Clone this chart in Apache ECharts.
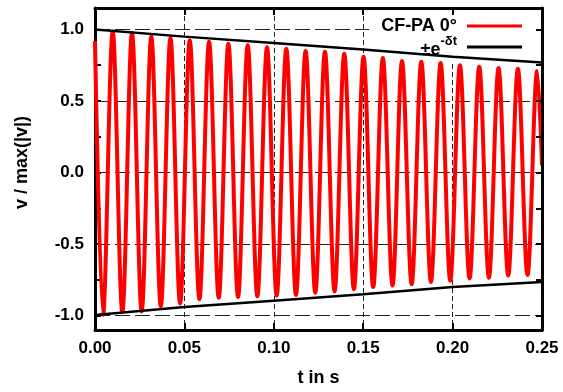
<!DOCTYPE html>
<html>
<head>
<meta charset="utf-8">
<script src="https://cdn.jsdelivr.net/npm/echarts@6/dist/echarts.min.js"></script>
<style>html,body{margin:0;padding:0;background:#fff}#c{width:563px;height:392px}</style>
</head>
<body>
<div id="c"></div>
<script>
// signal samples (time in s, normalized value): start, alternating extremes, end
var sigT = [0.0000, 0.0045, 0.0099, 0.0153, 0.0207, 0.0261, 0.0315, 0.0368, 0.0422, 0.0476, 0.0530,
            0.0584, 0.0638, 0.0692, 0.0746, 0.0800, 0.0854, 0.0908, 0.0962, 0.1016, 0.1070,
            0.1124, 0.1178, 0.1232, 0.1286, 0.1340, 0.1394, 0.1448, 0.1502, 0.1556, 0.1610,
            0.1664, 0.1717, 0.1771, 0.1825, 0.1879, 0.1933, 0.1987, 0.2041, 0.2095, 0.2149,
            0.2203, 0.2257, 0.2311, 0.2365, 0.2419, 0.2473, 0.2500];
var sigV = [0.92, -0.995, 0.985, -0.975, 0.975, -0.97, 0.95, -0.935, 0.94, -0.915, 0.925,
            -0.885, 0.915, -0.875, 0.90, -0.87, 0.89, -0.865, 0.875, -0.86, 0.865,
            -0.855, 0.85, -0.84, 0.845, -0.83, 0.83, -0.815, 0.81, -0.80, 0.80,
            -0.79, 0.78, -0.78, 0.775, -0.765, 0.765, -0.755, 0.75, -0.74, 0.74,
            -0.735, 0.73, -0.72, 0.725, -0.715, 0.71, 0.05];
// envelope ±e^(-δt)
var envT = [0, 0.05, 0.10, 0.15, 0.20, 0.25];
var envUpper = [1.0, 0.95, 0.905, 0.86, 0.81, 0.77];
var envLower = [-0.995, -0.94, -0.895, -0.85, -0.80, -0.765];
// axis ticks
var xTicks = [0, 0.05, 0.10, 0.15, 0.20, 0.25];
var yLabels = [-1.0, -0.5, 0.0, 0.5, 1.0];
var yTicks = [-1.0, -0.75, -0.5, -0.25, 0.0, 0.25, 0.5, 0.75, 1.0];
var seriesName = 'CF-PA 0°';
var envName = 'env';

var FONT = 'Liberation Sans';
function zip(a, b) { return a.map(function (v, i) { return [v, b[i]]; }); }

var chart = echarts.init(document.getElementById('c'), null, {renderer: 'canvas'});
var axisLineStyle = {color: '#000', width: 3};
chart.setOption({
  animation: false,
  backgroundColor: '#fff',
  grid: {left: 95, right: 21, top: 8, bottom: 60, containLabel: false},
  legend: {
    data: [{name: seriesName, icon: 'rect'}, {name: envName, icon: 'rect'}],
    orient: 'vertical',
    align: 'right',
    right: 22, top: 8,
    padding: [9, 19, 4, 12],
    backgroundColor: '#fff',
    z: 2,
    itemWidth: 55, itemHeight: 3, itemGap: 0,
    formatter: function (n) { return n === envName ? '{a|±e}{b|-δt}' : n; },
    textStyle: {
      fontFamily: FONT, fontWeight: 'bold', fontSize: 18, color: '#000', padding: [0, 5, 0, 0],
      rich: {
        a: {fontFamily: FONT, fontWeight: 'bold', fontSize: 18, color: '#000', padding: [6, 0, 0, 0]},
        b: {fontFamily: FONT, fontWeight: 'bold', fontSize: 13, color: '#000', verticalAlign: 'top', padding: [0, 0, 8, 0]}
      }
    }
  },
  xAxis: [{
    type: 'value', min: 0, max: 0.25, interval: 0.05, position: 'bottom',
    name: 't in s', nameLocation: 'middle', nameGap: 39,
    nameTextStyle: {fontFamily: FONT, fontWeight: 'bold', fontSize: 18, color: '#000'},
    axisLine: {show: true, onZero: false, lineStyle: axisLineStyle},
    axisTick: {show: true, inside: true, length: 7, lineStyle: {color: '#000', width: 2}},
    axisLabel: {margin: 10, fontFamily: FONT, fontWeight: 'bold', fontSize: 17, color: '#000',
      formatter: function (v) { return v.toFixed(2); }},
    splitLine: {show: true, lineStyle: {color: '#222', width: 1, type: [5, 3]}}
  }, {
    type: 'value', min: 0, max: 0.25, interval: 0.05, position: 'top', z: 4,
    axisLine: {show: true, onZero: false, lineStyle: axisLineStyle},
    axisTick: {show: true, inside: true, length: 7, lineStyle: {color: '#000', width: 2}},
    axisLabel: {show: false},
    splitLine: {show: false}
  }],
  yAxis: [{
    type: 'value', min: -1.1, max: 1.15, position: 'left',
    name: 'v / max(|v|)', nameLocation: 'middle', nameGap: 64, nameRotate: 90,
    nameTextStyle: {fontFamily: FONT, fontWeight: 'bold', fontSize: 18, color: '#000', padding: [0, 0, 0, 13]},
    axisLine: {show: true, onZero: false, lineStyle: axisLineStyle},
    axisTick: {show: true, inside: true, length: 6, customValues: yTicks, lineStyle: {color: '#000', width: 2}},
    axisLabel: {margin: 11, customValues: yLabels, fontFamily: FONT, fontWeight: 'bold', fontSize: 17, color: '#000',
      formatter: function (v) { return (+v).toFixed(1); }},
    splitLine: {show: false}
  }, {
    type: 'value', min: -1.1, max: 1.15, position: 'right', z: 4,
    axisLine: {show: true, onZero: false, lineStyle: axisLineStyle},
    axisTick: {show: true, inside: true, length: 6, customValues: yTicks, lineStyle: {color: '#000', width: 2}},
    axisLabel: {show: false},
    splitLine: {show: false}
  }],
  series: [{
    name: 'grid', type: 'line', data: [], silent: true, z: 1,
    markLine: {
      silent: true, symbol: ['none', 'none'], z: 1, animation: false,
      label: {show: false},
      lineStyle: {color: '#222', width: 1, type: [15, 5]},
      data: yLabels.map(function (v) { return {yAxis: v}; })
    }
  }, {
    name: seriesName, type: 'line', z: 3,
    data: zip(sigT, sigV), showSymbol: false, symbol: 'none', smooth: 0.35,
    lineStyle: {color: '#f00', width: 4}, itemStyle: {color: '#f00'}
  }, {
    name: envName, type: 'line', z: 3,
    data: zip(envT, envUpper), showSymbol: false, symbol: 'none',
    lineStyle: {color: '#000', width: 2.5}, itemStyle: {color: '#000'}
  }, {
    name: envName, type: 'line', z: 3,
    data: zip(envT, envLower), showSymbol: false, symbol: 'none',
    lineStyle: {color: '#000', width: 2.5}, itemStyle: {color: '#000'}
  }]
});
</script>
</body>
</html>
